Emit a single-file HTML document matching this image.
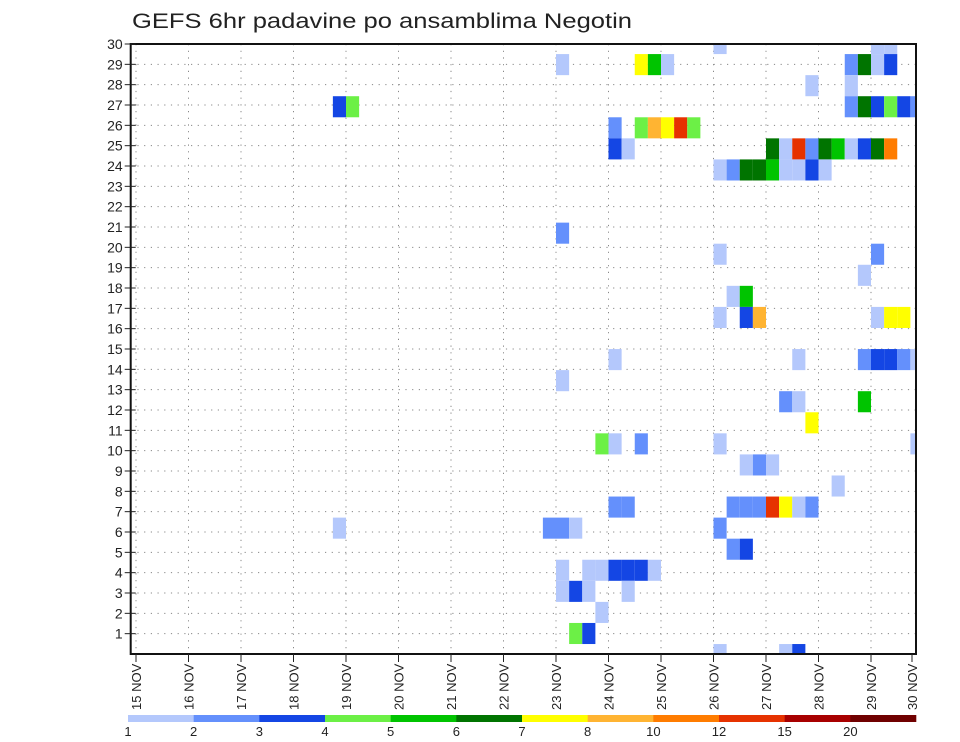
<!DOCTYPE html>
<html><head><meta charset="utf-8"><style>
html,body{margin:0;padding:0;background:#fff;}
svg{display:block;font-family:"Liberation Sans",sans-serif;}
</style></head><body>
<svg id="chart" width="960" height="742" viewBox="0 0 960 742" xmlns="http://www.w3.org/2000/svg">
<text x="132" y="28" font-size="21" fill="#222" textLength="500" lengthAdjust="spacingAndGlyphs">GEFS 6hr padavine po ansamblima Negotin</text>
<g id="grid"></g>
<g id="cells"></g>
<g id="axes"></g>
<g id="legend"></g>
</svg>
<script>
// ---- data ----
const dayLabels = ["15","16","17","18","19","20","21","22","23","24","25","26","27","28","29","30"];
const memberTicks = [1,2,3,4,5,6,7,8,9,10,11,12,13,14,15,16,17,18,19,20,21,22,23,24,25,26,27,28,29,30];
const levelBounds = [1,2,3,4,5,6,7,8,10,12,15,20,30];
const levelLabels = ["1","2","3","4","5","6","7","8","10","12","15","20"];
const levelColors = ["#b4c8fc","#6490fc","#1446e4","#6cf046","#00c400","#007400","#ffff00","#ffb432","#ff7c00","#e63200","#a80000","#700000"];
// cell time index (6h steps from 15 NOV 00z), member row, precip value (mm)
const cellTime   = [44,56,57, 32,38,39,40,54,55,56,57, 51,54, 15,16,54,55,56,57,58,59, 36,38,39,40,41,42,
  36,37,48,49,50,51,52,53,54,55,56,57, 44,45,46,47,48,49,50,51,52, 32, 44,56, 55, 45,46,
  44,46,47,56,57,58, 36,50,55,56,57,58,59, 32, 49,50,55, 51, 35,36,38,44,59, 46,47,48, 53,
  36,37,45,46,47,48,49,50,51, 31,32,33,44,15, 45,46, 32,34,35,36,37,38,39, 32,33,34,37, 35, 33,34, 44,49,50];
const cellMember = [30,30,30, 29,29,29,29,29,29,29,29, 28,28, 27,27,27,27,27,27,27,27, 26,26,26,26,26,26,
  25,25,25,25,25,25,25,25,25,25,25,25, 24,24,24,24,24,24,24,24,24, 21, 20,20, 19, 18,18,
  17,17,17,17,17,17, 15,15,15,15,15,15,15, 14, 13,13,13, 12, 11,11,11,11,11, 10,10,10, 9,
  8,8,8,8,8,8,8,8,8, 7,7,7,7,7, 6,6, 5,5,5,5,5,5,5, 4,4,4,4, 3, 2,2, 1,1,1];
const cellValue  = [1.5,1.5,1.5, 1.5,7.5,5.5,1.5,2.5,6.5,1.5,3.5, 1.5,1.5, 3.5,4.5,2.5,6.5,3.5,4.5,3.5,2.5, 2.5,4.5,9,7.5,13.5,4.5,
  3.5,1.5,6.5,1.5,13.5,2.5,6.5,5.5,1.5,3.5,6.5,11, 1.5,2.5,6.5,6.5,5.5,1.5,1.5,3.5,1.5, 2.5, 1.5,2.5, 1.5, 1.5,5.5,
  1.5,3.5,9,1.5,7.5,7.5, 1.5,1.5,2.5,3.5,3.5,2.5,1.5, 1.5, 2.5,1.5,5.5, 7.5, 4.5,1.5,2.5,1.5,1.5, 1.5,2.5,1.5, 1.5,
  2.5,2.5,2.5,2.5,2.5,13.5,7.5,1.5,2.5, 2.5,2.5,1.5,2.5,1.5, 2.5,3.5, 1.5,1.5,1.5,3.5,3.5,3.5,1.5, 1.5,3.5,1.5,1.5, 1.5, 4.5,3.5, 1.5,1.5,3.5];

// ---- scales ----
const L=130.7,R=916,T=44,B=654;
const dayW=52.5, x15=136, cellW=dayW/4;
const xDay = d => x15 + d*dayW;
const xCell = i => x15 + i*cellW;
const yTick = m => B - m*(B-T)/30;
const cellH = 21.07;
const yCell = m => 33 + (30-m)*cellH;
const colorOf = v => { let c=levelColors[0]; for(let k=0;k<levelBounds.length-1;k++){ if(v>=levelBounds[k]) c=levelColors[k]; } return c; };
const NS="http://www.w3.org/2000/svg";
function mk(tag, attrs, parent){ const e=document.createElementNS(NS,tag); for(const k in attrs) e.setAttribute(k,attrs[k]); parent.appendChild(e); return e; }

const grid=document.getElementById('grid'), cells=document.getElementById('cells'), axes=document.getElementById('axes'), legend=document.getElementById('legend');

// gridlines
memberTicks.forEach(m=>{ const y=yTick(m);
  const g=mk('line',{x1:L,x2:R,y1:y,y2:y,stroke:'#888','stroke-width':1,'stroke-dasharray':'1.2 5.5'},grid);
  
  
});
dayLabels.forEach((d,k)=>{ const x=xDay(k); if(x>R) return;
  const g=mk('line',{x1:x,x2:x,y1:T,y2:B,stroke:'#888','stroke-width':1,'stroke-dasharray':'1.2 5.5'},grid);
  
  
});

// cells
const clip=mk('clipPath',{id:'plotclip'},document.getElementById('chart'));
mk('rect',{x:L,y:T,width:R-L,height:B-T},clip);
cells.setAttribute('clip-path','url(#plotclip)');
for(let n=0;n<cellTime.length;n++){
  const r=mk('rect',{x:xCell(cellTime[n]).toFixed(2),y:yCell(cellMember[n]).toFixed(2),width:cellW,height:cellH,fill:colorOf(cellValue[n])},cells);
  
  
}

// frame
const fr=mk('rect',{x:L,y:T,width:R-L,height:B-T,fill:'none',stroke:'#111','stroke-width':2},axes);



// y ticks & labels
memberTicks.forEach(m=>{ const y=yTick(m);
  mk('line',{x1:L-6,x2:L+5,y1:y,y2:y,stroke:'#222','stroke-width':1},axes);
  const t=mk('text',{x:L-8,y:y+5,'font-size':14,'text-anchor':'end',fill:'#222'},axes);
  t.textContent=m;
  
  
});
// x ticks & labels
dayLabels.forEach((d,k)=>{ let x=xDay(k); if(x>R) x=R-4;
  mk('line',{x1:x,x2:x,y1:B,y2:B+8,stroke:'#222','stroke-width':1},axes);
  const t=mk('text',{x:0,y:0,'font-size':13,fill:'#222',transform:`translate(${x+5},710) rotate(-90)`,'xml:space':'preserve'},axes);
  t.textContent=d+"  NOV";
  
  
});

// colorbar
const cbL=128,cbR=916,cbY=715,cbH=7,segW=(cbR-cbL)/levelColors.length;
levelColors.forEach((c,k)=>{
  const r=mk('rect',{x:cbL+k*segW,y:cbY,width:segW+0.3,height:cbH,fill:c},legend);
  
  
});
levelLabels.forEach((l,k)=>{
  const t=mk('text',{x:cbL+k*segW,y:736,'font-size':13,'text-anchor':'middle',fill:'#222'},legend);
  t.textContent=l;
  
  
});
</script>
</body></html>
